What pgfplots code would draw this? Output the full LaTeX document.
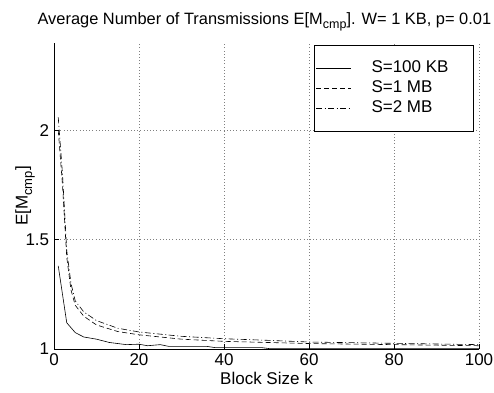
\documentclass[border=0pt]{standalone}
\usepackage{fontspec}
\setmainfont{Liberation Sans}
\usepackage{pgfplots}
\pgfplotsset{compat=1.18}
\begin{document}
\fontsize{17}{20}\selectfont
\begin{tikzpicture}
\useasboundingbox (-54pt,-43pt) rectangle (440pt,349pt);
\begin{axis}[
  at={(0pt,0pt)}, anchor=south west,
  scale only axis, width=425pt, height=306pt,
  xmin=0, xmax=100, ymin=1, ymax=2.4,
  axis x line*=bottom, axis y line*=left,
  axis line style={-, line width=0.8pt},
  xtick={0,20,40,60,80,100},
  ytick={1,1.5,2},
  yticklabels={1,1.5,2},
  tick align=inside,
  major tick length=5pt,
  tick style={black, line width=0.6pt},
  grid=major,
  grid style={dash pattern=on 0.8pt off 2.4pt, gray, line width=0.7pt},
  /pgf/number format/assume math mode=true,
  ticklabel style={font=\fontsize{17}{20}\selectfont},
  xticklabel style={yshift=1pt},
  yticklabel style={xshift=1pt},
  xlabel={Block Size k},
  ylabel={E[M\raisebox{-4.5pt}{\fontsize{13}{14}\selectfont cmp}]},
  every axis x label/.style={at={(axis description cs:0.5,-0.095)}, anchor=center},
  every axis y label/.style={at={(axis description cs:-0.068,0.5)}, anchor=center, rotate=90},
  label style={font=\fontsize{17}{20}\selectfont},
  title={Average Number of Transmissions E[M\raisebox{-4.5pt}{\fontsize{12.5}{14}\selectfont cmp}]. W= 1 KB, p= 0.01},
  every axis title/.style={at={(axis description cs:0.495,1.062)}, anchor=base},
  title style={font=\fontsize{16.4}{20}\selectfont},
  legend cell align=left,
  legend style={at={(0.988,0.993)}, anchor=north east, draw=black, line width=0.8pt,
    inner xsep=2pt, inner ysep=13pt, font=\fontsize{17}{20}\selectfont,
    nodes={text height=12pt, text depth=4pt, inner ysep=2pt, inner xsep=10pt},
    /tikz/every odd column/.append style={column sep=10pt}},
  legend image code/.code={\draw[#1] (0pt,0pt) -- (35pt,0pt);},
]
\addplot[black, line width=0.6pt] coordinates {
(1,1.38) (3,1.12) (5,1.075) (7,1.055) (10,1.045) (13,1.03) (17,1.02) (20,1.022)
(22,1.015) (25,1.02) (27,1.012) (30,1.012) (36,1.012) (38,1.006) (49,1.006)
(51,1.001) (100,1.001)};
\addlegendentry{\makebox[90pt][l]{S=100 KB}}
\addplot[black, line width=0.6pt, dash pattern=on 5pt off 3pt] coordinates {
(1,2.0) (2,1.75) (3,1.42) (4,1.27) (5,1.2) (7,1.15) (10,1.11) (15,1.08)
(20,1.065) (30,1.045) (40,1.035) (50,1.03) (60,1.025) (80,1.02) (100,1.015)};
\addlegendentry{S=1 MB}
\addplot[black, line width=0.6pt, dash pattern=on 6pt off 2.5pt on 1pt off 2.5pt] coordinates {
(1,2.06) (2,1.8) (3,1.45) (4,1.3) (5,1.22) (7,1.17) (10,1.13) (15,1.095)
(20,1.078) (30,1.058) (40,1.047) (50,1.04) (60,1.032) (80,1.026) (100,1.02)};
\addlegendentry{S=2 MB}
\end{axis}
\end{tikzpicture}
\end{document}
